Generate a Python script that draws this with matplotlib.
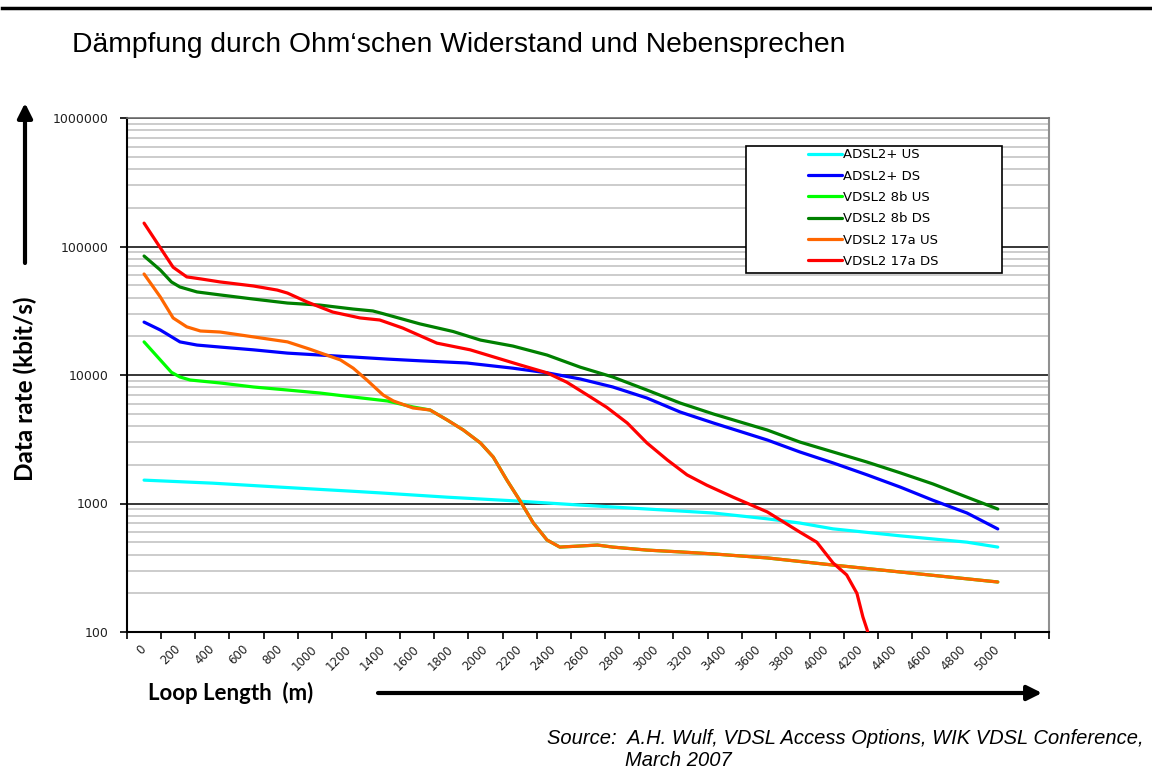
import numpy as np
import matplotlib
matplotlib.use('Agg')
import matplotlib.pyplot as plt
from matplotlib.patches import Rectangle
from matplotlib.lines import Line2D
from matplotlib.ticker import FixedLocator, NullFormatter

#%% data: loop length (m) -> data rate (kbit/s)
adsl_us_len = [0, 400, 800, 1200, 1380, 1775, 2160, 2555, 2945, 3335, 3650, 3840, 4035, 4430, 4820, 5000]
adsl_us_val = [1520, 1440, 1340, 1250, 1210, 1120, 1050, 972, 906, 843, 760, 705, 635, 560, 500, 458]

adsl_ds_len = [0, 95, 210, 310, 445, 640, 840, 1030, 1225, 1425, 1615, 1890, 2160, 2360, 2555,
               2745, 2945, 3140, 3335, 3650, 3840, 4035, 4235, 4430, 4620, 4820, 5000]
adsl_ds_val = [25800, 22400, 18100, 17100, 16500, 15700, 14800, 14300, 13800, 13300, 12900, 12400,
               11300, 10400, 9310, 8070, 6620, 5150, 4230, 3120, 2520, 2070, 1670, 1340, 1060, 843, 634]

vdsl8_us_len = [0, 95, 160, 210, 270, 445, 640, 840, 1030, 1225, 1425, 1575, 1675]
vdsl8_us_val = [18100, 13100, 10500, 9650, 9140, 8670, 8070, 7640, 7240, 6740, 6280, 5640, 5340]

vdsl8_ds_len = [0, 95, 160, 210, 310, 445, 640, 840, 1030, 1225, 1340, 1400, 1615, 1810, 1970, 2160,
                2360, 2555, 2745, 2945, 3140, 3335, 3650, 3840, 4035, 4235, 4430, 4620, 4820, 5000]
vdsl8_ds_val = [84300, 65600, 53000, 48400, 44300, 42000, 39000, 36300, 35000, 32600, 31500, 30000,
                25000, 21800, 18700, 16800, 14300, 11500, 9650, 7640, 6050, 4970, 3730, 3010, 2520,
                2100, 1730, 1420, 1120, 906]

vdsl17_us_len = [0, 95, 170, 250, 330, 445, 640, 840, 970, 1030, 1150, 1225, 1305, 1400, 1460, 1575,
                 1675, 1775, 1870, 1970, 2045, 2125, 2200, 2280, 2360, 2435, 2555, 2655, 2745, 2945,
                 3140, 3335, 3650, 4035, 4430, 5000]
vdsl17_us_val = [61100, 40500, 27800, 23700, 22000, 21600, 19800, 18100, 15900, 14900, 13100, 11300,
                 9140, 6990, 6280, 5540, 5340, 4470, 3730, 2960, 2300, 1520, 1060, 705, 520, 458, 467,
                 475, 458, 434, 420, 405, 377, 332, 293, 245]

vdsl17_ds_len = [0, 170, 250, 330, 445, 640, 780, 840, 955, 1105, 1265, 1380, 1515, 1715, 1910, 2065,
                 2200, 2360, 2475, 2595, 2710, 2830, 2945, 3065, 3180, 3295, 3450, 3650, 3840, 3940,
                 4035, 4115, 4175, 4210, 4235, 4245]
vdsl17_ds_val = [152000, 69000, 58000, 56000, 53000, 49300, 45800, 43400, 37000, 30900, 27800, 26800,
                 23200, 17700, 15700, 13600, 12000, 10400, 8800, 7000, 5600, 4230, 2960, 2180, 1670,
                 1390, 1120, 860, 600, 500, 345, 278, 200, 131, 104, 90]

series_names = ['ADSL2+ US', 'ADSL2+ DS', 'VDSL2 8b US', 'VDSL2 8b DS', 'VDSL2 17a US', 'VDSL2 17a DS']
series_colors = ['#00FFFF', '#0000FF', '#00FF00', '#008000', '#FF6600', '#FF0000']

x_labels = [str(v) for v in range(0, 5001, 200)]
y_ticks = [100, 1000, 10000, 100000, 1000000]
y_labels = ['100', '1000', '10000', '100000', '1000000']

# 8b US runs under the 17a US line once both meet
tail = [i for i, l in enumerate(vdsl17_us_len) if l > 1700]
vdsl8_us_len_full = vdsl8_us_len + [vdsl17_us_len[i] for i in tail]
vdsl8_us_val_full = vdsl8_us_val + [vdsl17_us_val[i] for i in tail]

all_len = [adsl_us_len, adsl_ds_len, vdsl8_us_len_full, vdsl8_ds_len, vdsl17_us_len, vdsl17_ds_len]
all_val = [adsl_us_val, adsl_ds_val, vdsl8_us_val_full, vdsl8_ds_val, vdsl17_us_val, vdsl17_ds_val]

#%%
plt.rcParams['font.family'] = 'DejaVu Sans'
W, H = 1152, 782
fig = plt.figure(figsize=(W / 100, H / 100), dpi=100)
ax = fig.add_axes([127 / W, 1 - 632 / H, 922 / W, 514 / H])

for lens, vals, name, col in zip(all_len, all_val, series_names, series_colors):
    ax.plot(lens, vals, color=col, lw=2.3, label=name, zorder=3,
            solid_joinstyle='round', solid_capstyle='round')

ax.set_yscale('log')
ax.set_ylim(100, 1000000)
ax.set_xlim(-100, 5300)

ax.yaxis.set_major_locator(FixedLocator(y_ticks))
ax.set_yticklabels(y_labels, fontsize=9, color='#202020')
ax.yaxis.set_minor_formatter(NullFormatter())
ax.tick_params(axis='y', which='major', length=5, width=1.2, pad=8, direction='out')
ax.tick_params(axis='y', which='minor', length=0)
ax.yaxis.grid(True, which='minor', color='#c8c8c8', lw=1.3)
ax.yaxis.grid(True, which='major', color='black', lw=1.1)
ax.set_axisbelow(True)

# category boundaries get the tick marks, labels sit in between
ax.set_xticks(np.arange(-100, 5301, 200))
ax.set_xticklabels([])
ax.set_xticks(np.arange(0, 5001, 200), minor=True)
ax.set_xticklabels(x_labels, minor=True, rotation=45, ha='right', va='center',
                   rotation_mode='anchor', fontsize=8.5, color='#202020')
ax.tick_params(axis='x', which='major', length=5, width=1.2, direction='out')
ax.tick_params(axis='x', which='minor', length=0, pad=11)

for s in ['left', 'bottom']:
    ax.spines[s].set_linewidth(1.5)
    ax.spines[s].set_color('black')
ax.spines['right'].set_color('#909090')
ax.spines['right'].set_linewidth(1.5)
ax.spines['top'].set_color('#707070')
ax.spines['top'].set_linewidth(1.2)

# legend
ax.add_patch(Rectangle((0.671, 0.698), 0.278, 0.2475, transform=ax.transAxes,
                       facecolor='white', edgecolor='black', lw=1.2, zorder=4))
ax.legend(loc='upper left', bbox_to_anchor=(0.7386, 0.941), frameon=False, fontsize=9.5,
          handlelength=2.55, handletextpad=0.1, labelspacing=0.63, borderpad=0,
          borderaxespad=0)

#%% decorations
fig.add_artist(Line2D([0.002, 1], [1 - 8 / H] * 2, transform=fig.transFigure, color='black', lw=2.5))
fig.text(72 / W, 1 - 45 / H, 'Dämpfung durch Ohm‘schen Widerstand und Nebensprechen',
         fontsize=20.3, family='Liberation Sans', va='center', ha='left')

fig.text(25 / W, 1 - 389 / H, 'Data rate (kbit/s)', rotation=90, fontsize=17.5, fontweight='bold',
         family='Lato', ha='center', va='center')
fig.text(148 / W, 1 - 693 / H, 'Loop Length  (m)', fontsize=16, fontweight='bold',
         family='Lato', ha='left', va='center')

ax.annotate('', xy=(25 / W, 1 - 103 / H), xytext=(25 / W, 1 - 263 / H), xycoords='figure fraction',
            arrowprops=dict(arrowstyle='-|>', lw=3, color='black', mutation_scale=22,
                            shrinkA=0, shrinkB=0), annotation_clip=False)
ax.annotate('', xy=(1042 / W, 1 - 693 / H), xytext=(378 / W, 1 - 693 / H), xycoords='figure fraction',
            arrowprops=dict(arrowstyle='-|>', lw=3, color='black', mutation_scale=22,
                            shrinkA=0, shrinkB=0), annotation_clip=False)

fig.text(547 / W, 1 - 738 / H, 'Source:  A.H. Wulf, VDSL Access Options, WIK VDSL Conference,',
         fontsize=14.5, style='italic', family='Liberation Sans', va='center', ha='left')
fig.text(625 / W, 1 - 761 / H, 'March 2007',
         fontsize=14.5, style='italic', family='Liberation Sans', va='center', ha='left')

fig.savefig('out.png', dpi=100)
